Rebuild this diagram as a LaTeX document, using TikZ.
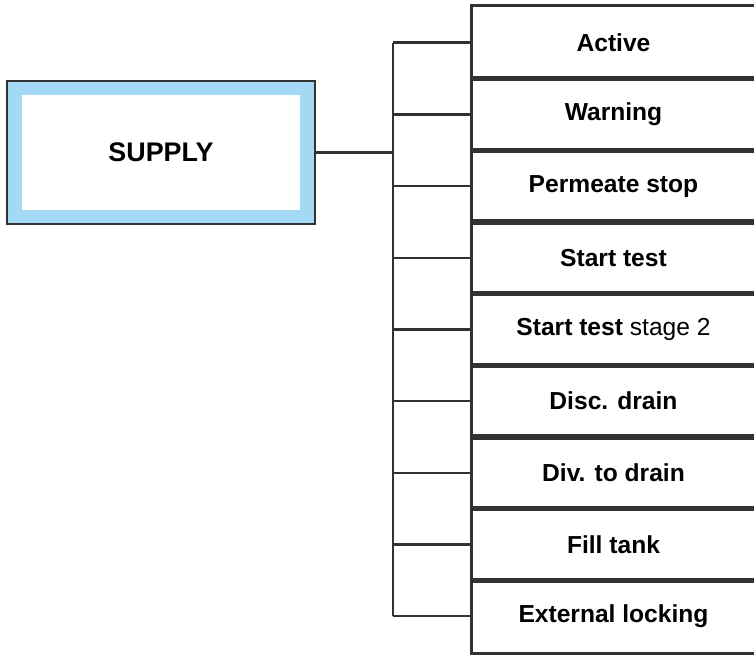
\documentclass[tikz,border=0pt]{standalone}
\usepackage{fontspec}
\setmainfont{Liberation Sans}
\definecolor{supplyblue}{RGB}{163,217,245}
\definecolor{linegray}{RGB}{50,50,50}

\begin{document}
\begin{tikzpicture}[x=0.02cm, y=-0.02cm, line width=1.5pt, draw=linegray,
  cell/.style={minimum width=5.62cm, minimum height=1.433cm, inner sep=0pt,
    font={\fontsize{14}{15}\selectfont\bfseries}}]

\useasboundingbox (0,0) rectangle (754,654);

\node [draw=linegray, fill=supplyblue, line width=1.6pt, minimum width=6.16cm,
minimum height=2.86cm, inner sep=0pt] (supply-outer) at (161, 152.5) {};

\node [fill=white, minimum width=5.56cm, minimum height=2.3cm, inner sep=0pt,
font={\fontsize{15.3}{16}\selectfont\bfseries}] (supply) at (161, 152.5) {SUPPLY};

\coordinate (trunk) at (393, 0);

\foreach \lbl [count=\i] in {Active, Warning, Permeate stop, Start test,
  {Start test \textnormal{stage 2}}, Disc. drain, Div. to drain, Fill tank,
  External locking}
{
  \node [cell] (r\i) at (613.5, {42.8+71.67*(\i-1)}) {\lbl};
  \draw ([xshift=0.5cm]r\i.north east) -| (r\i.south west)
    -- ([xshift=0.5cm]r\i.south east);
  \draw (r\i.west -| trunk) -- (r\i.west);
}

\draw (r1.west -| trunk) -- (r9.west -| trunk);
\draw (supply-outer.east) -- (supply-outer.east -| trunk);

\end{tikzpicture}
\end{document}
